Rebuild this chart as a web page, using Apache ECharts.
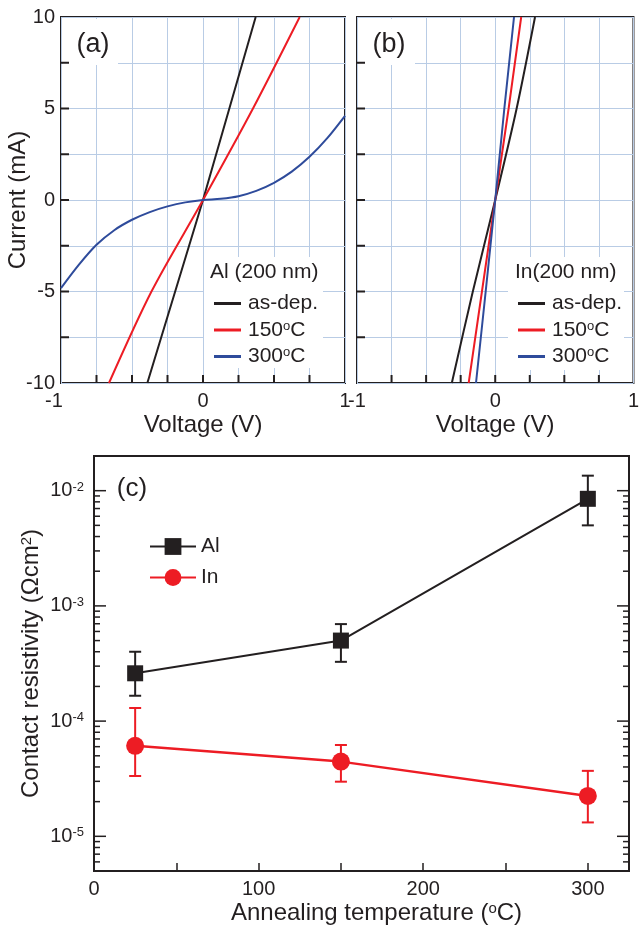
<!DOCTYPE html>
<html><head><meta charset="utf-8">
<script src="https://cdn.jsdelivr.net/npm/echarts@6/dist/echarts.min.js"></script>
<style>html,body{margin:0;padding:0;background:#fff}#c{width:642px;height:928px}</style>
</head><body><div id="c"></div>
<script>
const FONT = '"Liberation Sans", Arial, Helvetica, sans-serif';
const TXT = '#231f20';
const C_BLACK = '#231f20', C_RED = '#ed1c24', C_BLUE = '#2e4b9b', C_GRID = '#b9cce5';

// ---- Panel (a): Al (200 nm), I-V ----
const alAsDepV = [-0.392, 0, 0.371];
const alAsDepI = [-10, 0, 10];
const al150V = [-0.662, -0.363, 0, 0.352, 0.681];
const al150I = [-10, -5, 0, 5, 10];
const al300V = [-1, -0.875, -0.75, -0.625, -0.5, -0.375, -0.25, -0.125, 0, 0.125, 0.25, 0.375, 0.5, 0.625, 0.75, 0.875, 1];
const al300I = [-4.82, -3.55, -2.45, -1.65, -1.08, -0.66, -0.35, -0.13, 0, 0.07, 0.21, 0.5, 0.94, 1.55, 2.36, 3.38, 4.6];

// ---- Panel (b): In (200 nm), I-V ----
const inAsDepV = [-0.314, -0.162, 0, 0.155, 0.288];
const inAsDepI = [-10, -5, 0, 5, 10];
const in150V = [-0.192, -0.096, 0, 0.097, 0.188];
const in150I = [-10, -5, 0, 5, 10];
const in300V = [-0.139, -0.069, 0, 0.066, 0.136];
const in300I = [-10, -5, 0, 5, 10];

const ivNames = ['as-dep.', '150°C', '300°C'];
// inner tick marks of the I-V panels
const ivTickV = [-0.75, -0.5, -0.25, 0, 0.25, 0.5, 0.75];
const ivTickI = [-7.5, -5, -2.5, 0, 2.5, 5, 7.5];

// ---- Panel (c): contact resistivity vs annealing temperature ----
const tempC = [25, 150, 300];
const alRho = [2.6e-4, 5.0e-4, 8.5e-3];
const alLo = [1.66e-4, 3.27e-4, 5.0e-3];
const alHi = [4.0e-4, 6.95e-4, 1.35e-2];
const inRho = [6.1e-5, 4.45e-5, 2.24e-5];
const inLo = [3.34e-5, 2.98e-5, 1.32e-5];
const inHi = [1.3e-4, 6.2e-5, 3.7e-5];

const zip = (a, b) => a.map((v, i) => [v, b[i]]);

const chart = echarts.init(document.getElementById('c'), null, {renderer: 'canvas'});

function ivAxesX(grid, name, shiftNeg) {
  return [{
    gridIndex: grid, type: 'value', min: -1, max: 1, interval: 0.25, z: 5,
    axisLine: {show: false, onZero: false},
    axisTick: {show: false},
    axisLabel: {margin: 8, color: TXT, fontSize: 20, fontFamily: FONT,
      formatter: v => {
        if (Math.abs(v - Math.round(v)) > 1e-6) return '';
        const r = Math.round(v);
        return (shiftNeg && r < 0) ? '{n|' + r + '}' : String(r);
      },
      rich: {n: {fontSize: 20, color: TXT, fontFamily: FONT, padding: [0, 14, 0, 0]}}},
    splitLine: {show: false},
    name: name, nameLocation: 'middle', nameGap: 30, nameMoveOverlap: false,
    nameTextStyle: {color: TXT, fontSize: 24, fontFamily: FONT}
  }, {
    gridIndex: grid, type: 'value', min: -1, max: 1, interval: 0.25, z: 0,
    axisLine: {show: false, onZero: false}, axisTick: {show: false}, axisLabel: {show: false},
    splitLine: {show: true, lineStyle: {color: C_GRID, width: 1}}
  }];
}
function ivAxesY(grid, showLabel, name) {
  return [{
    gridIndex: grid, type: 'value', min: -10, max: 10, interval: 2.5, z: 5,
    axisLine: {show: false, onZero: false},
    axisTick: {show: false},
    axisLabel: {show: showLabel, margin: 6, color: TXT, fontSize: 20, fontFamily: FONT,
      formatter: v => Math.abs(v % 5) < 1e-6 ? String(v) : ''},
    splitLine: {show: false},
    name: name, nameLocation: 'middle', nameGap: 31, nameRotate: 90, nameMoveOverlap: false,
    nameTextStyle: {color: TXT, fontSize: 24, fontFamily: FONT}
  }, {
    gridIndex: grid, type: 'value', min: -10, max: 10, interval: 2.5, z: 0,
    axisLine: {show: false, onZero: false}, axisTick: {show: false}, axisLabel: {show: false},
    splitLine: {show: true, lineStyle: {color: C_GRID, width: 1}}
  }];
}

function ivTicks(xi, yi) {
  const data = ivTickV.map(v => [v, -10, 0]).concat(ivTickI.map(i => [-1, i, 1]));
  return {
    type: 'custom', name: 'ticks' + xi, xAxisIndex: xi, yAxisIndex: yi, z: 6, silent: true,
    data: data, encode: {x: 0, y: 1},
    renderItem: (params, api) => {
      const p = api.coord([api.value(0), api.value(1)]);
      const kind = api.value(2);
      const st = {stroke: TXT, lineWidth: 2};
      const shape = kind === 0 ? {x1: p[0], y1: p[1], x2: p[0], y2: p[1] - 8}
                               : {x1: p[0], y1: p[1], x2: p[0] + 8, y2: p[1]};
      return {type: 'line', shape: shape, style: st};
    }
  };
}

// log-axis tick marks for panel (c)
const cMajorTicks = [1e-5, 1e-4, 1e-3, 1e-2];
const cMinorTicks = [];
[-6, -5, -4, -3, -2].forEach(k => {
  [2, 3, 4, 5, 6, 7, 8, 9].forEach(m => {
    const v = m * Math.pow(10, k);
    if (v >= 5e-6 && v <= 2e-2) cMinorTicks.push(v);
  });
});
const cTickData = cMajorTicks.map(v => [0, v, 12]).concat(cMinorTicks.map(v => [0, v, 6]));

function ivLine(name, V, I, color, xi, yi, smooth) {
  return {
    name, type: 'line', xAxisIndex: xi, yAxisIndex: yi, data: zip(V, I),
    symbol: 'none', showSymbol: false, smooth: smooth || false, z: 3,
    lineStyle: {color, width: 2}, itemStyle: {color}
  };
}

function errBars(name, lo, hi, color) {
  return {
    type: 'custom', name: name + ' err', xAxisIndex: 4, yAxisIndex: 4, z: 2,
    data: tempC.map((t, i) => [t, lo[i], hi[i]]),
    encode: {x: 0, y: [1, 2]},
    renderItem: (params, api) => {
      const p1 = api.coord([api.value(0), api.value(1)]);
      const p2 = api.coord([api.value(0), api.value(2)]);
      const w = 6;
      const st = {stroke: color, lineWidth: 2};
      return {type: 'group', children: [
        {type: 'line', shape: {x1: p1[0], y1: p1[1], x2: p2[0], y2: p2[1]}, style: st},
        {type: 'line', shape: {x1: p1[0] - w, y1: p1[1], x2: p1[0] + w, y2: p1[1]}, style: st},
        {type: 'line', shape: {x1: p2[0] - w, y1: p2[1], x2: p2[0] + w, y2: p2[1]}, style: st}
      ]};
    }
  };
}

const LINE_ICON = 'path://M0,0L27,0L27,3L0,3Z';
const legendIV = (left) => ({
  data: ivNames.map(n => ({name: n, icon: LINE_ICON})), left: left, top: 288, orient: 'vertical',
  itemWidth: 27, itemHeight: 14, itemGap: 5.5, selectedMode: false,
  textStyle: {color: TXT, fontSize: 21, fontFamily: FONT, padding: [0, 0, 0, 2],
    rich: {s: {fontSize: 13, verticalAlign: 'top', color: TXT, fontFamily: FONT}}},
  formatter: n => n.replace('°C', '{s|o}C')
});

const option = {
  animation: false,
  backgroundColor: '#fff',
  textStyle: {fontFamily: FONT},
  grid: [
    {left: 61, top: 17, width: 284, height: 366, show: true, borderColor: TXT, borderWidth: 2, backgroundColor: 'transparent'},
    {left: 357, top: 17, width: 284, height: 366, show: true, borderColor: TXT, borderWidth: 2, backgroundColor: 'transparent'},
    {left: 94, top: 456, width: 535, height: 415, show: true, borderColor: TXT, borderWidth: 2, backgroundColor: 'transparent'}
  ],
  xAxis: [
    ...ivAxesX(0, 'Voltage (V)', true),
    ...ivAxesX(1, 'Voltage (V)', false),
    {
      gridIndex: 2, type: 'value', min: 0, max: 325, interval: 50, z: 5,
      axisLine: {show: false, onZero: false},
      axisTick: {show: true, inside: true, length: 8, lineStyle: {color: TXT, width: 1.5}},
      axisLabel: {margin: 8, color: TXT, fontSize: 20, fontFamily: FONT,
        formatter: v => (v % 100 === 0) ? String(v) : ''},
      splitLine: {show: false},
      name: 'Annealing temperature ({s|o}C)', nameLocation: 'middle', nameGap: 30, nameMoveOverlap: false,
      nameTextStyle: {color: TXT, fontSize: 24, fontFamily: FONT, padding: [0, 0, 0, 30],
        rich: {s: {fontSize: 15, verticalAlign: 'top', color: TXT, fontFamily: FONT}}}
    }
  ],
  yAxis: [
    ...ivAxesY(0, true, 'Current (mA)'),
    ...ivAxesY(1, false, ''),
    {
      gridIndex: 2, type: 'log', logBase: 10, min: 5e-6, max: 2e-2, z: 5,
      axisLine: {show: false, onZero: false}, axisTick: {show: false},
      axisLabel: {margin: 10, color: TXT, fontSize: 20, fontFamily: FONT,
        formatter: v => {
          const e = Math.log10(v);
          if (Math.abs(e - Math.round(e)) > 1e-6) return '';
          return '{b|10}{s|' + Math.round(e) + '}';
        },
        rich: {b: {fontSize: 20, color: TXT, fontFamily: FONT},
               s: {fontSize: 13, verticalAlign: 'top', color: TXT, fontFamily: FONT}}},
      splitLine: {show: false},
      name: 'Contact resistivity (Ωcm{s|2})', nameLocation: 'middle', nameGap: 51, nameRotate: 90, nameMoveOverlap: false,
      nameTextStyle: {color: TXT, fontSize: 24, fontFamily: FONT,
        rich: {s: {fontSize: 15, verticalAlign: 'top', color: TXT, fontFamily: FONT}}}
    }
  ],
  legend: [
    legendIV(209),
    legendIV(513),
    {
      data: ['Al', 'In'], left: 144, top: 531, orient: 'vertical',
      itemWidth: 46, itemHeight: 21, itemGap: 10, selectedMode: false,
      textStyle: {color: TXT, fontSize: 21, fontFamily: FONT}
    }
  ],
  graphic: [
    {type: 'rect', z: 1, shape: {x: 63, y: 19, width: 55, height: 46}, style: {fill: '#fff'}},
    {type: 'rect', z: 1, shape: {x: 359, y: 19, width: 56, height: 46}, style: {fill: '#fff'}},
    {type: 'rect', z: 1, shape: {x: 204, y: 257, width: 119, height: 111}, style: {fill: '#fff'}},
    {type: 'rect', z: 1, shape: {x: 508, y: 257, width: 116, height: 113}, style: {fill: '#fff'}},
    {type: 'text', z: 10, x: 93, y: 45, style: {text: '(a)', fill: TXT, fontSize: 27, fontFamily: FONT, textAlign: 'center', textVerticalAlign: 'middle'}},
    {type: 'text', z: 10, x: 389, y: 45, style: {text: '(b)', fill: TXT, fontSize: 27, fontFamily: FONT, textAlign: 'center', textVerticalAlign: 'middle'}},
    {type: 'text', z: 10, x: 132, y: 489, style: {text: '(c)', fill: TXT, fontSize: 26, fontFamily: FONT, textAlign: 'center', textVerticalAlign: 'middle'}},
    {type: 'text', z: 10, x: 210, y: 272, style: {text: 'Al (200 nm)', fill: TXT, fontSize: 21, fontFamily: FONT, textAlign: 'left', textVerticalAlign: 'middle'}},
    {type: 'text', z: 10, x: 515, y: 272, style: {text: 'In(200 nm)', fill: TXT, fontSize: 21, fontFamily: FONT, textAlign: 'left', textVerticalAlign: 'middle'}}
  ],
  series: [
    ivLine('as-dep.', alAsDepV, alAsDepI, C_BLACK, 0, 0),
    ivLine('150°C', al150V, al150I, C_RED, 0, 0, 0.3),
    ivLine('300°C', al300V, al300I, C_BLUE, 0, 0, 0.3),
    ivLine('as-dep.', inAsDepV, inAsDepI, C_BLACK, 2, 2, 0.3),
    ivLine('150°C', in150V, in150I, C_RED, 2, 2),
    ivLine('300°C', in300V, in300I, C_BLUE, 2, 2),
    ivTicks(0, 0),
    ivTicks(2, 2),
    {
      type: 'custom', name: 'yticks', xAxisIndex: 4, yAxisIndex: 4, z: 5, silent: true,
      data: cTickData, encode: {x: 0, y: 1},
      renderItem: (params, api) => {
        const cs = params.coordSys;
        const y = api.coord([0, api.value(1)])[1];
        const len = api.value(2);
        const st = {stroke: TXT, lineWidth: 1.5};
        return {type: 'group', children: [
          {type: 'line', shape: {x1: cs.x, y1: y, x2: cs.x + len, y2: y}, style: st},
          {type: 'line', shape: {x1: cs.x + cs.width, y1: y, x2: cs.x + cs.width - len, y2: y}, style: st}
        ]};
      }
    },
    errBars('Al', alLo, alHi, C_BLACK),
    errBars('In', inLo, inHi, C_RED),
    {
      name: 'Al', type: 'line', xAxisIndex: 4, yAxisIndex: 4, data: zip(tempC, alRho),
      symbol: 'rect', symbolSize: 16, z: 3,
      lineStyle: {color: C_BLACK, width: 2}, itemStyle: {color: C_BLACK}
    },
    {
      name: 'In', type: 'line', xAxisIndex: 4, yAxisIndex: 4, data: zip(tempC, inRho),
      symbol: 'circle', symbolSize: 18, z: 3,
      lineStyle: {color: C_RED, width: 2.5}, itemStyle: {color: C_RED}
    }
  ]
};
chart.setOption(option);
</script>
</body></html>
